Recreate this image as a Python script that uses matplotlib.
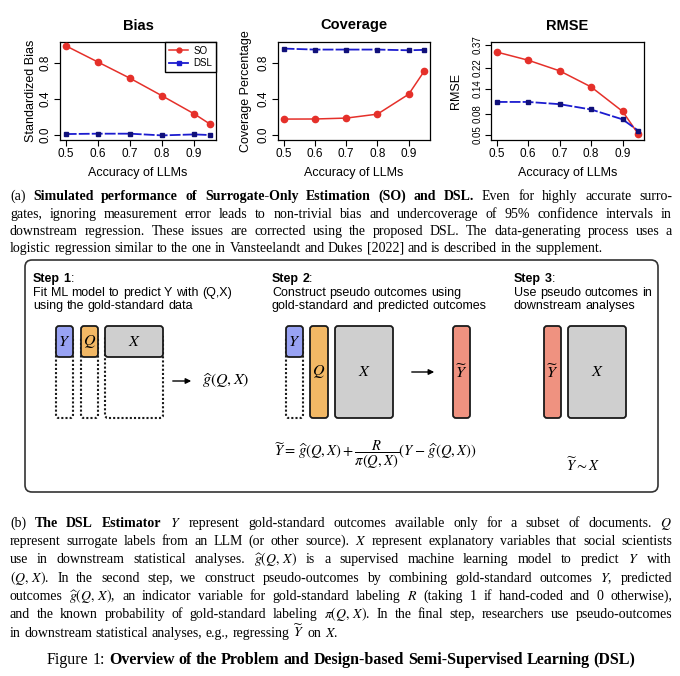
import numpy as np
import matplotlib.pyplot as plt
from matplotlib.patches import FancyBboxPatch, FancyArrowPatch
from matplotlib.lines import Line2D

plt.rcParams['font.family'] = ['Liberation Sans', 'DejaVu Sans']
plt.rcParams['mathtext.fontset'] = 'stix'

# data
accuracy = [0.5, 0.6, 0.7, 0.8, 0.9, 0.95]
bias_so = [0.99, 0.81, 0.63, 0.435, 0.235, 0.12]
bias_dsl = [0.011, 0.015, 0.015, -0.004, 0.007, 0.0]
cov_so = [0.177, 0.178, 0.188, 0.232, 0.453, 0.711]
cov_dsl = [0.959, 0.948, 0.948, 0.948, 0.940, 0.945]
rmse_so = [0.314, 0.262, 0.207, 0.145, 0.0844, 0.051]
rmse_dsl = [0.104, 0.104, 0.099, 0.088, 0.0707, 0.055]
x_ticks = [0.5, 0.6, 0.7, 0.8, 0.9]
y_ticks = [0.0, 0.4, 0.8]
rmse_ticks = [0.05, 0.08, 0.14, 0.22, 0.37]

RED = '#e5302a'
BLUE = '#1c1ccf'
SERIF = ['Liberation Serif', 'DejaVu Serif']
SANS = ['Liberation Sans', 'DejaVu Sans']

fig = plt.figure(figsize=(6.8, 6.76), dpi=100)
W, H = 680, 676

# overlay in pixel coordinates for the text and the diagram
ov = fig.add_axes([0, 0, 1, 1], zorder=-1)
ov.set_xlim(0, W)
ov.set_ylim(H, 0)
ov.axis('off')


def px_axes(x0, x1, y0, y1):
    return fig.add_axes([x0 / W, 1 - y1 / H, (x1 - x0) / W, (y1 - y0) / H])


def style(ax, title, ylabel, ylab_x):
    ax.set_title(title, fontsize=10.5, fontweight='bold', pad=9)
    ax.set_xlim(0.482, 0.968)
    ax.set_xticks(x_ticks)
    ax.set_xticklabels([f'{v:.1f}' for v in x_ticks])
    ax.tick_params(direction='out', length=4, width=0.8, labelsize=8.5, pad=2)
    ax.set_xlabel('Accuracy of LLMs', fontsize=9)
    ax.xaxis.set_label_coords(0.5, -0.28)
    ax.set_ylabel(ylabel, fontsize=9)
    ax.yaxis.set_label_coords(ylab_x, 0.5)
    for s in ax.spines.values():
        s.set_linewidth(0.9)


def plot_pair(ax, so, dsl):
    ax.plot(accuracy, so, color=RED, lw=1.1, marker='o', ms=4.5, zorder=3)
    ax.plot(accuracy, dsl, color=BLUE, lw=1.3, ls=(0, (6, 1.2)),
            marker='s', ms=3.2, mfc='#10107a', mec='#10107a', zorder=3)


# Bias
ax1 = px_axes(60, 216, 42, 140)
plot_pair(ax1, bias_so, bias_dsl)
ax1.set_ylim(-0.055, 1.032)
ax1.set_yticks(y_ticks)
ax1.set_yticklabels([f'{v:.1f}' for v in y_ticks], rotation=90, va='center')
style(ax1, 'Bias', 'Standardized Bias', -0.15)
handles = [Line2D([], [], color=RED, lw=1.1, marker='o', ms=3.5),
           Line2D([], [], color=BLUE, lw=1.3, marker='s', ms=2.8)]
ax1.legend(handles, ['SO', 'DSL'], loc='upper right', bbox_to_anchor=(1, 1),
           borderaxespad=0, fontsize=7, fancybox=False, edgecolor='black',
           framealpha=1, handlelength=2.0, borderpad=0.4, labelspacing=0.25,
           handletextpad=0.5)

# Coverage
ax2 = px_axes(278, 430, 42, 140)
plot_pair(ax2, cov_so, cov_dsl)
ax2.set_ylim(-0.055, 1.032)
ax2.set_yticks(y_ticks)
ax2.set_yticklabels([f'{v:.1f}' for v in y_ticks], rotation=90, va='center')
style(ax2, 'Coverage', 'Coverage Percentage', -0.17)

# RMSE
ax3 = px_axes(491, 644, 42, 140)
plot_pair(ax3, rmse_so, rmse_dsl)
ax3.set_yscale('log')
ax3.set_ylim(0.0448, 0.392)
ax3.set_yticks(rmse_ticks)
ax3.set_yticklabels([f'{v:.2f}' for v in rmse_ticks], rotation=90, va='center')
ax3.minorticks_off()
style(ax3, 'RMSE', 'RMSE', -0.19)
ax3.tick_params(axis='y', labelsize=7)

renderer = fig.canvas.get_renderer()


def text_w(s, fs, wt, family):
    t = ov.text(0, 0, s, fontsize=fs, fontweight=wt, family=family)
    w = t.get_window_extent(renderer).width
    t.remove()
    return w


def put_line(segs, y, x0, x1, fs, justify=True, family=SERIF):
    words = []
    glue = False
    for text, wt in segs:
        for i, p in enumerate(text.split(' ')):
            if i > 0:
                glue = False
            if not p:
                continue
            if glue:
                words[-1].append((p, wt))
            else:
                words.append([(p, wt)])
            glue = True
    items = []
    total = 0
    for w in words:
        pieces = []
        for p, wt in w:
            t = ov.text(0, y, p, fontsize=fs, fontweight=wt, family=family,
                        va='baseline', ha='left')
            wd = t.get_window_extent(renderer).width
            pieces.append((t, wd))
            total += wd
        items.append(pieces)
    space = text_w('a a', fs, 'normal', family) - text_w('aa', fs, 'normal', family)
    gap = (x1 - x0 - total) / (len(items) - 1) if justify and len(items) > 1 else space
    x = x0
    for pieces in items:
        for t, wd in pieces:
            t.set_x(x)
            x += wd
        x += gap


FS = 10.0
R_ = 'normal'
B_ = 'bold'

cap_a = [
    [('(a) ', R_), ('Simulated performance of Surrogate-Only Estimation (SO) and DSL.', B_),
     (' Even for highly accurate surro-', R_)],
    [('gates, ignoring measurement error leads to non-trivial bias and undercoverage of 95% confidence intervals in', R_)],
    [('downstream regression. These issues are corrected using the proposed DSL. The data-generating process uses a', R_)],
    [('logistic regression similar to the one in Vansteelandt and Dukes [2022] and is described in the supplement.', R_)],
]
ya = [200, 218, 235, 252]
for i, segs in enumerate(cap_a):
    put_line(segs, ya[i], 10, 672, FS, justify=(i < len(cap_a) - 1))

QX = r'(Q,\,X)'
cap_b = [
    [('(b) ', R_), ('The DSL Estimator', B_),
     (r' $Y$ represent gold-standard outcomes available only for a subset of documents. $Q$', R_)],
    [(r'represent surrogate labels from an LLM (or other source). $X$ represent explanatory variables that social scientists', R_)],
    [(r'use in downstream statistical analyses. $\widehat{g}' + QX + r'$ is a supervised machine learning model to predict $Y$ with', R_)],
    [(r'$' + QX + r'$. In the second step, we construct pseudo-outcomes by combining gold-standard outcomes $Y$, predicted', R_)],
    [(r'outcomes $\widehat{g}' + QX + r'$, an indicator variable for gold-standard labeling $R$ (taking 1 if hand-coded and 0 otherwise),', R_)],
    [(r'and the known probability of gold-standard labeling $\pi' + QX + r'$. In the final step, researchers use pseudo-outcomes', R_)],
    [(r'in downstream statistical analyses, e.g., regressing $\widetilde{Y}$ on $X$.', R_)],
]
yb = [527, 545, 563, 582, 600, 618, 637]
for i, segs in enumerate(cap_b):
    put_line(segs, yb[i], 10, 672, FS, justify=(i < len(cap_b) - 1))

put_line([('Figure 1: ', R_),
          ('Overview of the Problem and Design-based Semi-Supervised Learning (DSL)', B_)],
         664, 47, 640, 11.5, justify=False)

# diagram frame
ov.add_patch(FancyBboxPatch((25, 260), 633, 232, boxstyle='round,pad=0,rounding_size=7',
                            fc='white', ec='#333333', lw=1.2))

YC = '#98a2f3'
QC = '#f2b865'
XC = '#cfcfcf'
TC = '#ef9280'


def rbox(x0, y0, x1, y1, fc, dotted=False):
    ov.add_patch(FancyBboxPatch((x0, y0), x1 - x0, y1 - y0,
                                boxstyle='round,pad=0,rounding_size=3',
                                fc=fc, ec='#1a1a1a', lw=1.5 if dotted else 1.3,
                                ls=(0, (1, 1)) if dotted else '-'))


def label(x, y, s, fs=11.5):
    ov.text(x, y, s, fontsize=fs, ha='center', va='center')


def arrow(x0, x1, y):
    ov.add_patch(FancyArrowPatch((x0, y), (x1, y), arrowstyle='-|>',
                                 mutation_scale=8, lw=1, color='black'))


steps = [
    (33, 'Step 1', ['Fit ML model to predict Y with (Q,X)', 'using the gold-standard data']),
    (272, 'Step 2', ['Construct pseudo outcomes using', 'gold-standard and predicted outcomes']),
    (514, 'Step 3', ['Use pseudo outcomes in', 'downstream analyses']),
]
for x0, head, lines in steps:
    put_line([(head, B_), (':', R_)], 282, x0, x0 + 100, 9.0, justify=False, family=SANS)
    for j, ln in enumerate(lines):
        put_line([(ln, R_)], 296 + 13 * j, x0, x0 + 200, 9.0, justify=False, family=SANS)

# step 1
for x0, x1, fc, s in [(56, 73, YC, '$Y$'), (81, 98, QC, '$Q$'), (105, 163, XC, '$X$')]:
    rbox(x0, 335, x1, 418, 'none', dotted=True)
    rbox(x0, 326, x1, 357, fc)
    label((x0 + x1) / 2, 341.5, s)
arrow(170, 194, 381)
label(226, 381, r'$\widehat{g}(Q,X)$')

# step 2
rbox(286, 335, 303, 418, 'none', dotted=True)
rbox(286, 326, 303, 357, YC)
label(294.5, 341.5, '$Y$')
rbox(310, 326, 328, 418, QC)
label(319, 372, '$Q$')
rbox(335, 326, 393, 418, XC)
label(364, 372, '$X$')
arrow(409, 437, 372)
rbox(453, 326, 470, 418, TC)
label(461.5, 372, r'$\widetilde{Y}$')
label(375, 455, r'$\widetilde{Y}=\,\widehat{g}(Q,X)+\dfrac{R}{\pi(Q,X)}(Y-\,\widehat{g}(Q,X))$', fs=10.5)

# step 3
rbox(544, 326, 561, 418, TC)
label(552.5, 372, r'$\widetilde{Y}$')
rbox(568, 326, 626, 418, XC)
label(597, 372, '$X$')
label(583, 465, r'$\widetilde{Y}\sim X$', fs=10.5)

fig.savefig('out.png', dpi=100)
